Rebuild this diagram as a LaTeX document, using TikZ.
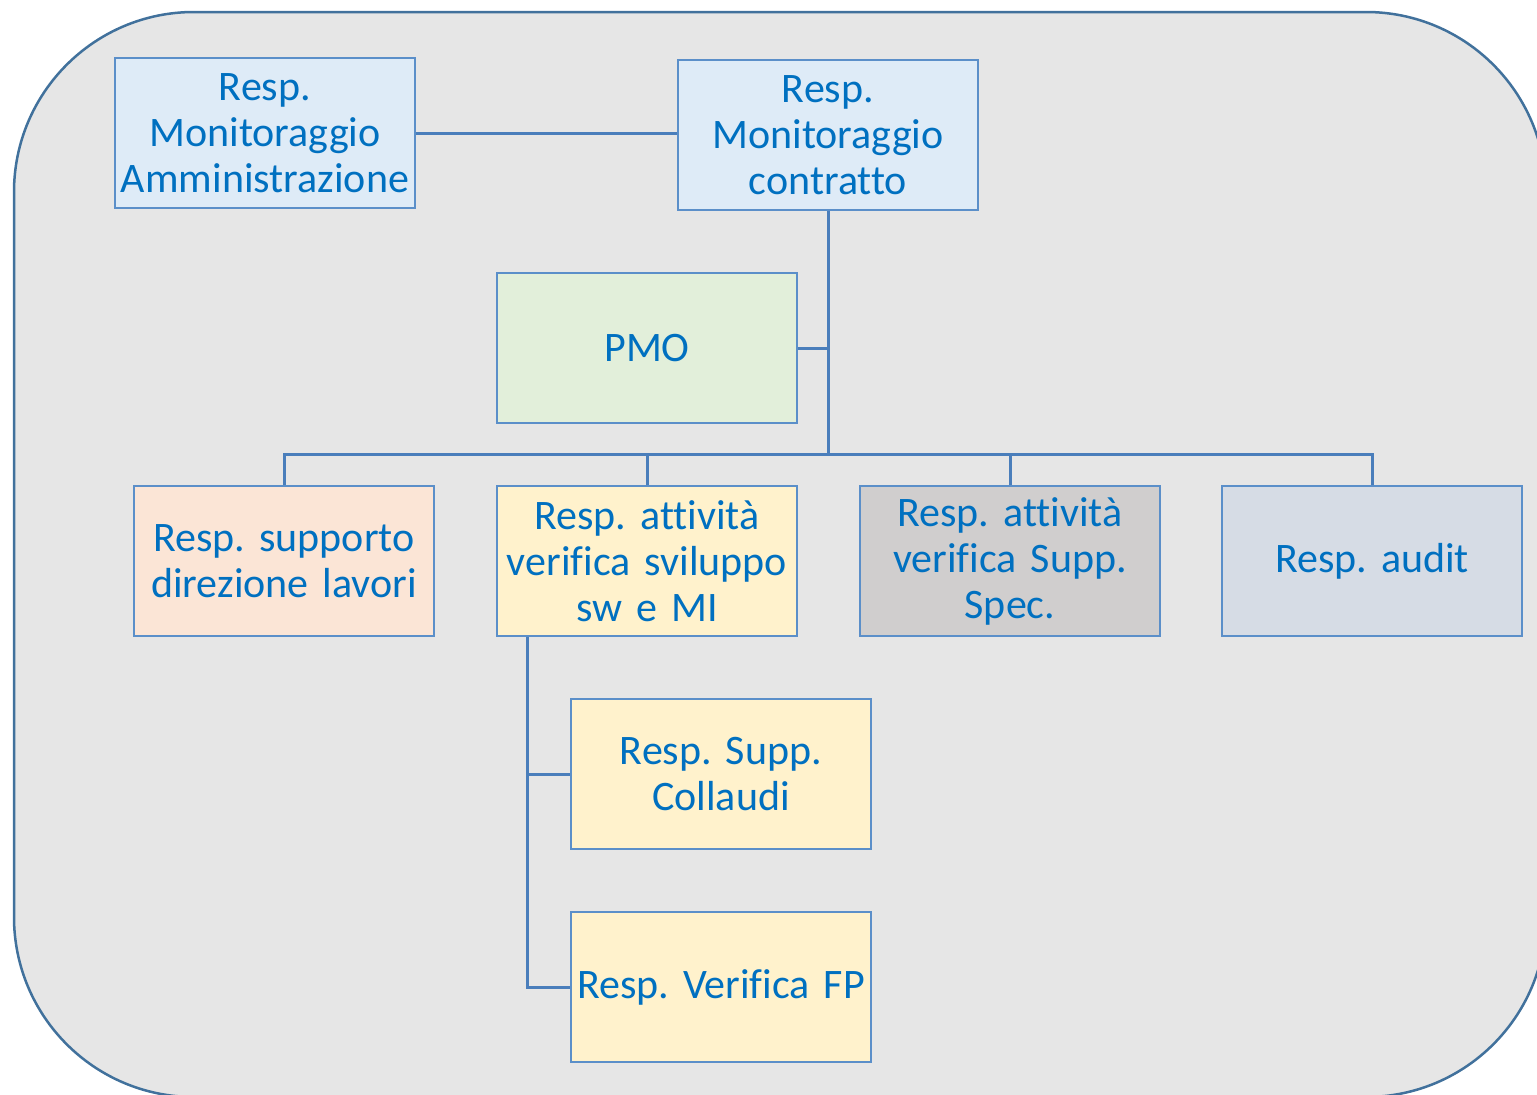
\documentclass[tikz,border=0pt]{standalone}
\usepackage{fontspec}
\setmainfont{Carlito}[Ligatures={NoCommon}]
\definecolor{outerline}{HTML}{41719C}
\definecolor{outerfill}{HTML}{E6E6E6}
\definecolor{boxline}{HTML}{5B8FC9}
\definecolor{conn}{HTML}{4A7EBB}
\definecolor{txt}{HTML}{0070C0}
\definecolor{fblue}{HTML}{DEEBF7}
\definecolor{fgreen}{HTML}{E2EFDA}
\definecolor{forange}{HTML}{FBE5D6}
\definecolor{fyellow}{HTML}{FFF2CC}
\definecolor{fgrey}{HTML}{D0CECE}
\definecolor{fslate}{HTML}{D6DCE5}
\frenchspacing
\begin{document}
\begin{tikzpicture}[x=1pt,y=-1pt,
  orgbox/.style={draw=boxline, line width=2pt, rectangle, minimum width=300pt, minimum height=150pt,
    text width=298pt, align=center, inner sep=0pt, text=txt,
    font=\fontsize{42}{46}\selectfont},
  link/.style={draw=conn, line width=3pt}]
\clip (0,0) rectangle (1537,1095);
\useasboundingbox (0,0) rectangle (1537,1095);
\draw[draw=outerline, fill=outerfill, line width=2.5pt, rounded corners=180pt] (14,12) rectangle (1546,1097);

\node[orgbox, fill=fblue] (adm) at (265,133) {Resp.\\Monitoraggio\\Amministrazione};
\node[orgbox, fill=fblue] (con) at (828,135) {Resp.\\Monitoraggio\\contratto};
\node[orgbox, fill=fgreen] (pmo) at (647,348) {PMO};
\node[orgbox, fill=forange] (sup) at (284,561) {Resp. supporto\\direzione lavori};
\node[orgbox, fill=fyellow] (ver) at (647,561) {Resp. attività\\verifica sviluppo\\sw e MI};
\node[orgbox, fill=fgrey] (spec) at (1010,561) {Resp. attività\\verifica Supp.\\Spec.};
\node[orgbox, fill=fslate] (aud) at (1372,561) {Resp. audit};
\node[orgbox, fill=fyellow] (col) at (721,774) {Resp. Supp.\\Collaudi};
\node[orgbox, fill=fyellow] (fp) at (721,987) {Resp. Verifica FP};

\coordinate (bus) at (828,454);
\coordinate (vx) at (527,0);

\draw[link] (adm.east) -- (adm.east -| con.west);
\draw[link] (con.south) -- (bus);
\draw[link] (pmo.east) -- (pmo.east -| con.south);
\draw[link] (sup.north) |- (bus) -| (aud.north);
\draw[link] (ver.north) -- (ver.north |- bus);
\draw[link] (spec.north) -- (spec.north |- bus);
\draw[link] (vx |- ver.south) |- (col.west);
\draw[link] (vx |- ver.south) |- (fp.west);
\end{tikzpicture}
\end{document}
